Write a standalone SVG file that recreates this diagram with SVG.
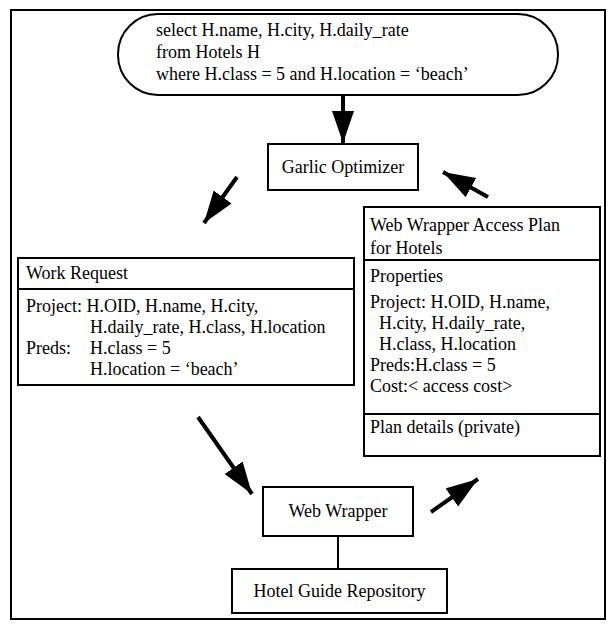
<svg xmlns="http://www.w3.org/2000/svg" width="612" height="630" viewBox="0 0 612 630">
<defs>
<marker id="ah" markerUnits="userSpaceOnUse" markerWidth="34" markerHeight="24" refX="32" refY="11" orient="auto">
<path d="M0,0 L32,11 L0,22 Z" fill="#000"/>
</marker>
<style>
text{font-family:"Liberation Serif","Times New Roman",serif;font-size:18px;fill:#000}
.box{fill:#fff;stroke:#000;stroke-width:2}
.ln{stroke:#000;stroke-width:2;fill:none}
.arr{stroke:#000;stroke-width:4;fill:none;marker-end:url(#ah)}
</style>
</defs>
<rect x="0" y="0" width="612" height="630" fill="#fff"/>
<rect id="frame" x="11" y="10" width="594" height="609" class="box"/>
<g id="query">
<rect x="118" y="14" width="440" height="81" rx="40" ry="40" class="box"/>
<text x="156" y="36">select H.name, H.city, H.daily_rate</text>
<text x="156" y="58">from Hotels H</text>
<text x="156" y="80">where H.class = 5 and H.location = ‘beach’</text>
</g>
<g id="optimizer">
<rect x="268" y="144" width="150" height="46" class="box"/>
<text x="343" y="173" text-anchor="middle">Garlic Optimizer</text>
</g>
<g id="workrequest">
<rect x="18" y="258" width="336" height="127" class="box"/>
<line x1="18" y1="289" x2="354" y2="289" class="ln"/>
<text x="26" y="279">Work Request</text>
<text x="26" y="312">Project: H.OID, H.name, H.city,</text>
<text x="90" y="333">H.daily_rate, H.class, H.location</text>
<text x="26" y="354">Preds:</text>
<text x="90" y="354">H.class = 5</text>
<text x="90" y="375">H.location = ‘beach’</text>
</g>
<g id="accessplan">
<rect x="364" y="207" width="236" height="249" class="box"/>
<line x1="364" y1="260" x2="600" y2="260" class="ln"/>
<line x1="364" y1="414" x2="600" y2="414" class="ln"/>
<text x="370" y="231">Web Wrapper Access Plan</text>
<text x="370" y="254">for Hotels</text>
<text x="370" y="282">Properties</text>
<text x="370" y="308">Project: H.OID, H.name,</text>
<text x="379" y="329">H.city, H.daily_rate,</text>
<text x="379" y="350">H.class, H.location</text>
<text x="370" y="371">Preds:H.class = 5</text>
<text x="370" y="392">Cost:&lt; access cost&gt;</text>
<text x="370" y="433">Plan details (private)</text>
</g>
<g id="webwrapper">
<rect x="263" y="487" width="150" height="49" class="box"/>
<text x="338" y="517" text-anchor="middle">Web Wrapper</text>
</g>
<g id="repository">
<rect x="232" y="569" width="215" height="44" class="box"/>
<text x="339.5" y="597" text-anchor="middle">Hotel Guide Repository</text>
</g>
<g id="connectors">
<line x1="343" y1="95" x2="343" y2="143" class="arr"/>
<line x1="237" y1="177" x2="204" y2="223" class="arr"/>
<line x1="488" y1="197" x2="443" y2="172" class="arr"/>
<line x1="198" y1="417" x2="252" y2="494" class="arr"/>
<line x1="431" y1="512" x2="478" y2="479" class="arr"/>
<line x1="338" y1="536" x2="338" y2="569" class="ln"/>
</g>
</svg>
